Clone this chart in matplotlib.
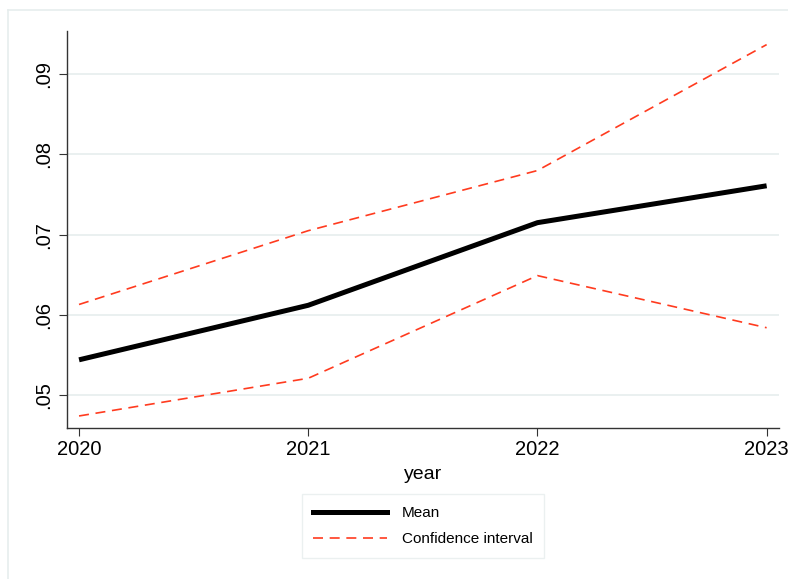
import numpy as np
import matplotlib.pyplot as plt
from matplotlib.lines import Line2D

plt.rcParams['font.family'] = ['Liberation Sans', 'DejaVu Sans']

years = [2020, 2021, 2022, 2023]
mean = [0.0544, 0.0612, 0.0715, 0.0761]
ci_upper = [0.0613, 0.0705, 0.0780, 0.0937]
ci_lower = [0.0474, 0.0521, 0.0649, 0.0584]
yticks = [0.05, 0.06, 0.07, 0.08, 0.09]
ytick_labels = ['.05', '.06', '.07', '.08', '.09']

red = '#FF3B1F'
grid_col = '#E6EDED'

fig = plt.figure(figsize=(7.88, 5.79), dpi=100)
ax = fig.add_axes([0.0846, 0.2608, 0.904, 0.6857])

ax.plot(years, ci_upper, color=red, lw=1.2, dashes=(6, 4), label='Confidence interval')
ax.plot(years, ci_lower, color=red, lw=1.2, dashes=(6, 4))
ax.plot(years, mean, color='black', lw=3.6, solid_capstyle='butt', label='Mean', zorder=3)

ax.set_xlim(2020 - 0.054, 2023 + 0.054)
ax.set_ylim(0.0459, 0.0954)
ax.set_xticks(years)
ax.set_xticklabels([str(y) for y in years])
ax.set_yticks(yticks)
ax.set_yticklabels(ytick_labels, rotation=90, va='center')
ax.tick_params(axis='both', labelsize=14.5, length=6, width=0.8, color='#333333')
ax.tick_params(axis='x', pad=3)
ax.tick_params(axis='y', pad=4)
ax.grid(axis='y', color=grid_col, lw=1.2)
ax.set_axisbelow(True)
for s in ['top', 'right']:
    ax.spines[s].set_visible(False)
for s in ['left', 'bottom']:
    ax.spines[s].set_color('#333333')
    ax.spines[s].set_linewidth(1.0)
ax.set_xlabel('year', fontsize=14, labelpad=5)

handles = [Line2D([], [], color='black', lw=3.6),
           Line2D([], [], color=red, lw=1.2, dashes=(6, 4))]
leg = fig.legend(handles, ['Mean', 'Confidence interval'],
                 loc='center', bbox_to_anchor=(423 / 788, 1 - 526 / 579),
                 fontsize=11, frameon=True, fancybox=False,
                 edgecolor=grid_col, handlelength=4.8, borderpad=0.75,
                 labelspacing=0.8, handletextpad=1.0)
leg.get_frame().set_linewidth(1.0)

# outer light frame
fig.add_artist(Line2D([8 / 788, 8 / 788], [0, 1 - 10 / 579], color=grid_col, lw=1.2, transform=fig.transFigure))
fig.add_artist(Line2D([8 / 788, 1], [1 - 10 / 579, 1 - 10 / 579], color=grid_col, lw=1.2, transform=fig.transFigure))

fig.savefig('out.png', dpi=100)
